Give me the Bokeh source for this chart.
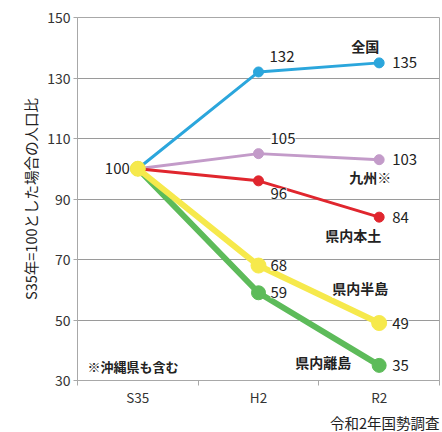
from bokeh.plotting import figure
from bokeh.models import (Range1d, FixedTicker, ColumnDataSource, LabelSet, Label, Title)
from bokeh.core.properties import value
from bokeh.embed import file_html
from bokeh.resources import INLINE

# ---- data ----
categories = ["S35", "H2", "R2"]
series_names = ["全国", "九州※", "県内本土", "県内離島", "県内半島"]
zenkoku = [100, 132, 135]
kyushu = [100, 105, 103]
hondo = [100, 96, 84]
rito = [100, 59, 35]
hanto = [100, 68, 49]
y_ticks = [30, 50, 70, 90, 110, 130, 150]
y_title = "S35年=100とした場合の人口比"
note_text = "※沖縄県も含む"
source_text = "令和2年国勢調査"

values = [zenkoku, kyushu, hondo, rito, hanto]
colors = ["#2BA6DC", "#C39BC9", "#E0262E", "#5DBB5A", "#F6E94C"]
widths = [3, 3, 3, 6, 6]
msizes = [10, 10, 10, 14, 15]

JP = "Noto Sans CJK JP"
xs = list(range(len(categories)))
y_lo, y_hi = y_ticks[0], y_ticks[-1]

p = figure(width=442, height=432, output_backend="svg", toolbar_location=None,
           x_range=Range1d(-0.5, 2.5), y_range=Range1d(y_lo, y_hi),
           min_border_left=77, min_border_right=3, min_border_top=17, min_border_bottom=50)

p.background_fill_color = "white"
p.border_fill_color = "white"
p.outline_line_color = "#a8a8a8"
p.outline_line_width = 1

# axes
p.yaxis.ticker = FixedTicker(ticks=y_ticks)
p.yaxis.axis_label = y_title
p.yaxis.axis_label_text_font = JP
p.yaxis.axis_label_text_font_style = "normal"
p.yaxis.axis_label_text_font_size = "14.5px"
p.yaxis.axis_label_text_color = "#222222"
p.yaxis.axis_label_standoff = 3
p.yaxis.major_label_text_font = JP
p.yaxis.major_label_text_font_size = "14px"
p.yaxis.major_label_text_color = "#333333"
p.yaxis.major_label_standoff = 3
p.yaxis.major_tick_out = 4
p.yaxis.major_tick_in = 0
p.yaxis.minor_tick_out = 0
p.yaxis.axis_line_color = "#a8a8a8"
p.yaxis.major_tick_line_color = "#a8a8a8"

p.xaxis.ticker = FixedTicker(ticks=xs, minor_ticks=[-0.5, 0.5, 1.5, 2.5])
p.xaxis.major_label_overrides = {i: c for i, c in zip(xs, categories)}
p.xaxis.major_label_text_font = JP
p.xaxis.major_label_text_font_size = "13.5px"
p.xaxis.major_label_text_color = "#333333"
p.xaxis.major_label_standoff = 1
p.xaxis.major_tick_out = 0
p.xaxis.major_tick_in = 0
p.xaxis.minor_tick_out = 5
p.xaxis.minor_tick_in = 0
p.xaxis.minor_tick_line_color = "#a8a8a8"
p.xaxis.axis_line_color = "#a8a8a8"

p.xgrid.grid_line_color = None
p.ygrid.ticker = FixedTicker(ticks=y_ticks)
p.ygrid.grid_line_color = "#9a9a9a"
p.ygrid.grid_line_width = 1

# lines & markers
for vals, c, w, s in zip(values, colors, widths, msizes):
    p.line(xs, vals, line_color=c, line_width=w)
    p.scatter(xs, vals, size=s, fill_color=c, line_color=c)

# value labels
lx, ly, lt, lxo, lyo, la = [], [], [], [], [], []
lx.append(0); ly.append(zenkoku[0]); lt.append(str(zenkoku[0])); lxo.append(-8); lyo.append(0); la.append("right")
h2_offsets = [(11, 15), (12, 15), (12, -13), (12, 0), (12, 0)]
for vals, (ox, oy) in zip(values, h2_offsets):
    lx.append(1); ly.append(vals[1]); lt.append(str(vals[1])); lxo.append(ox); lyo.append(oy); la.append("left")
for vals in values:
    lx.append(2); ly.append(vals[2]); lt.append(str(vals[2])); lxo.append(13); lyo.append(0); la.append("left")

src = ColumnDataSource(dict(x=lx, y=ly, t=lt, xo=lxo, yo=lyo, a=la))
p.add_layout(LabelSet(x="x", y="y", text="t", source=src, x_offset="xo", y_offset="yo",
                      text_align="a", text_baseline="middle", text_font=value(JP),
                      text_font_size=value("15px"), text_color="#222222",
                      background_fill_color="white", background_fill_alpha=0.75))

# series name labels
name_offsets = [(-14, 17), (-9, -17), (-26, -18), (-56, 3), (-19, 35)]
nsrc = ColumnDataSource(dict(
    x=[2] * len(series_names),
    y=[v[2] for v in values],
    t=series_names,
    xo=[o[0] for o in name_offsets],
    yo=[o[1] for o in name_offsets]))
p.add_layout(LabelSet(x="x", y="y", text="t", source=nsrc, x_offset="xo", y_offset="yo",
                      text_align="center", text_baseline="middle", text_font=value(JP),
                      text_font_size=value("14px"), text_font_style="bold", text_color="#222222",
                      background_fill_color="white", background_fill_alpha=0.75))

p.add_layout(Label(x=-0.5, y=y_lo, x_offset=10, y_offset=14, text=note_text,
                   text_font=JP, text_font_size="13px", text_font_style="bold",
                   text_color="#222222", text_baseline="middle"))

p.add_layout(Title(text=source_text, align="right", text_font=JP, text_font_size="14.5px",
                   text_font_style="normal", text_color="#222222", standoff=0), "below")

open("out.html", "w").write(file_html(p, INLINE))
